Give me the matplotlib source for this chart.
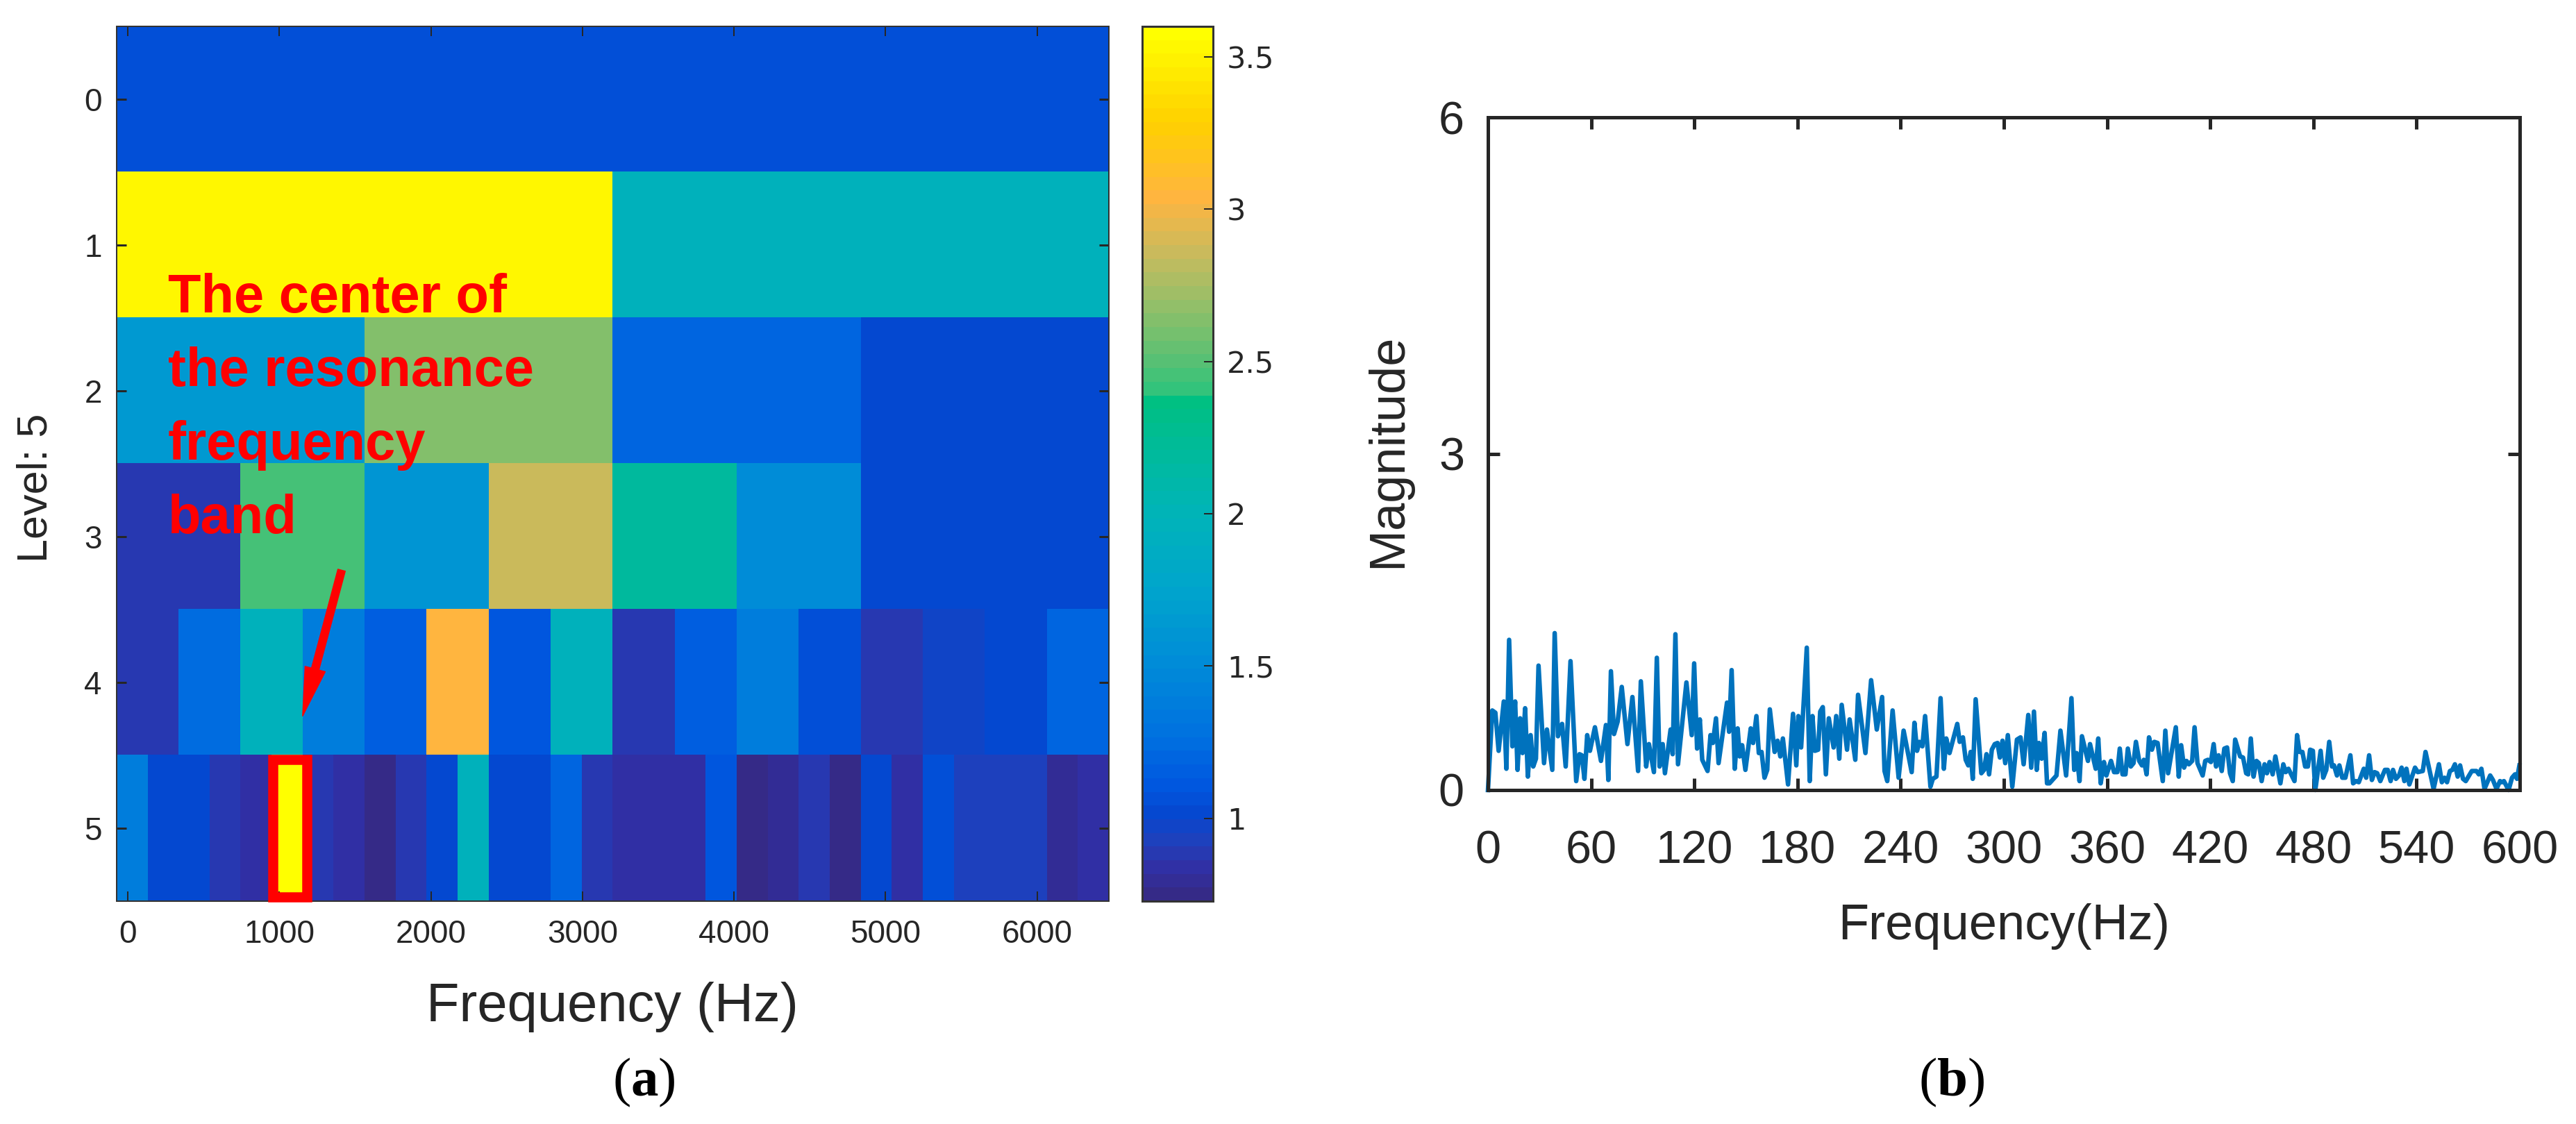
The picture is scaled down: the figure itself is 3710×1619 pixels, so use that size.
import numpy as np
import matplotlib
matplotlib.use('Agg')
import matplotlib.pyplot as plt
from matplotlib.colors import LinearSegmentedColormap
from matplotlib.patches import Rectangle

# --- Kurtogram values, one list per level ---
LEVEL_0 = [1.05]
LEVEL_1 = [3.52, 1.95]
LEVEL_2 = [1.65, 2.65, 1.2, 1.02]
LEVEL_3 = [0.88, 2.45, 1.6, 2.85, 2.2, 1.5, 1.02, 1.02]
LEVEL_4 = [0.88, 1.25, 1.95, 1.4, 1.15, 3.05, 1.1, 1.95,
           0.88, 1.15, 1.4, 1.05, 0.88, 0.98, 1.03, 1.22]
LEVEL_5 = [1.4, 1.0, 1.0, 0.9, 0.82, 3.6, 0.9, 0.82,
           0.76, 0.9, 1.02, 1.95, 1.02, 1.02, 1.22, 0.9,
           0.85, 0.85, 0.85, 1.12, 0.74, 0.78, 0.9, 0.74,
           1.0, 0.85, 1.05, 0.92, 0.92, 0.92, 0.8, 0.85]
LEVELS = [LEVEL_0, LEVEL_1, LEVEL_2, LEVEL_3, LEVEL_4, LEVEL_5]

FREQ_TICKS_A = [0, 1000, 2000, 3000, 4000, 5000, 6000]
CBAR_TICKS = [1, 1.5, 2, 2.5, 3, 3.5]
CBAR_LABELS = ['1', '1.5', '2', '2.5', '3', '3.5']
FREQ_TICKS_B = [0, 60, 120, 180, 240, 300, 360, 420, 480, 540, 600]
MAG_TICKS = [0, 3, 6]

# colour stops
CMAP_VALUES = [0.728, 0.82, 0.9, 1.0, 1.1, 1.25, 1.5, 1.75, 2.0, 2.25, 2.38,
               2.4, 2.5, 2.7, 2.85, 3.05, 3.3, 3.6]
CMAP_COLORS = ['#352a87', '#3030a5', '#2040bb', '#0548d0', '#0058e0', '#0070e0',
               '#008cd8', '#00a5cc', '#00b4b8', '#00bc94', '#00c080',
               '#2dc47c', '#55c074', '#96bf68', '#c4bb5f', '#ffb540', '#ffd000', '#ffff00']

# --- Envelope spectrum ---
SPEC_HZ = [0, 2.5, 4.3, 6.2, 9.2, 10.7, 12.3, 14.2, 15.8, 17.2, 18.7, 20.1, 21.6, 23.2, 24.8, 26.3, 27.9,
           29.4, 32.6, 34.3, 37.4, 38.8, 40.7, 43.1, 45.2, 48.0, 51.3, 53.2, 54.6, 56.1, 57.7, 59.3,
           62.2, 65.7, 68.6, 70.0, 71.5, 73.3, 75.4, 77.8, 81.1, 84.0, 87.3, 88.9, 92.0, 93.6, 96.5,
           98.2, 99.8, 101.6, 102.9, 106.2, 107.4, 109.0, 110.5, 115.4, 118.5, 119.9, 121.6, 123.2,
           124.6, 127.7, 129.4, 130.8, 132.6, 134.1, 139.0, 140.2, 141.7, 143.5, 145.2, 146.4, 147.8,
           149.7, 152.8, 154.2, 156.1, 157.5, 159.1, 160.8, 162.4, 163.9, 166.7, 168.4, 170.0, 171.5,
           174.5, 177.4, 179.3, 180.5, 182.1, 185.4, 187.1, 188.7, 190.1, 192.0, 193.2, 194.7, 196.5,
           198.2, 201.0, 202.5, 204.3, 205.7, 208.8, 210.3, 213.6, 215.2, 219.5, 222.8, 226.1, 229.2,
           230.6, 232.2, 235.3, 238.8, 241.7, 246.4, 248.0, 249.5, 250.9, 252.6, 254.2, 257.3, 258.7,
           260.8, 263.2, 265.1, 266.5, 268.4, 272.9, 274.3, 276.2, 277.8, 279.3, 280.7, 281.9, 283.6,
           286.9, 288.5, 289.9, 291.4, 293.0, 294.7, 296.3, 297.7, 299.2, 300.8, 302.3, 304.9,
           307.6, 309.7, 311.5, 314.2, 315.9, 317.5, 319.1, 320.4, 322.0, 323.7, 325.1, 326.5, 330.6,
           332.9, 336.2, 339.3, 340.9, 342.3, 344.0, 345.4, 348.9, 350.1, 353.4, 354.9, 356.3, 358.2,
           359.6, 362.3, 364.1, 366.0, 367.4, 369.0, 370.7, 372.1, 373.8, 375.4, 376.8, 378.7, 380.3,
           381.4, 383.0, 384.4, 386.1, 387.5, 389.4, 392.4, 393.9, 395.5, 400.0, 401.7, 403.1, 404.8,
           406.2, 407.6, 409.5, 410.9, 412.6, 415.6, 417.1, 418.7, 420.4, 422.0, 423.4, 424.9, 426.7,
           428.2, 429.8, 431.5, 433.1, 434.5, 437.4, 439.1, 440.9, 442.1, 443.6, 445.2, 446.9, 448.3,
           449.9, 451.6, 453.0, 454.5, 456.3, 457.9, 460.8, 462.5, 463.9, 465.5, 469.0, 470.5, 471.9,
           473.6, 475.2, 476.8, 478.1, 479.7, 481.1, 484.2, 485.7, 487.5, 489.2, 490.8, 492.0, 493.7,
           495.1, 496.8, 498.6, 501.5, 503.1, 504.8, 506.4, 509.3, 510.7, 512.4, 514.0, 515.6, 517.1,
           518.9, 521.6, 523.2, 524.9, 526.3, 528.0, 529.8, 531.3, 532.9, 534.1, 535.8, 539.1, 540.7,
           543.6, 545.2, 549.9, 553.0, 554.7, 556.3, 557.7, 559.4, 560.8, 562.3, 563.9, 565.3, 567.0,
           568.6, 572.1, 574.8, 576.2, 577.7, 579.5, 582.8, 584.4, 586.5, 588.5, 589.6, 590.8, 593.5,
           595.5, 597.2, 598.4, 599.8]
SPEC_MAG = [0, .71, .69, .35, .79, .19, 1.34, .39, .79, .18, .64, .33, .73, .12, .49, .21, .28,
            1.11, .24, .54, .18, 1.40, .48, .59, .21, 1.15, .08, .32, .31, .10, .49, .35,
            .56, .26, .58, .09, 1.06, .50, .61, .92, .41, .83, .17, .97, .21, .41, .16,
            1.18, .21, .41, .15, .54, .32, 1.39, .23, .96, .49, 1.13, .37, .63,
            .27, .17, .49, .42, .64, .24, .78, .52, 1.07, .19, .55, .30, .40,
            .18, .55, .42, .66, .33, .34, .11, .18, .72, .34, .44, .30, .46,
            .05, .68, .22, .66, .38, 1.27, .08, .66, .35, .36, .70, .74, .14,
            .64, .38, .66, .28, .76, .36, .63, .27, .85, .33, .98, .54, .83,
            .17, .08, .71, .11, .53, .16, .60, .35, .43, .39, .66, .03, .10,
            .12, .82, .19, .46, .33, .59, .43, .47, .27, .22, .34, .10, .81,
            .15, .18, .32, .14, .36, .41, .42, .29, .44, .24, .49, .03,
            .45, .47, .23, .67, .20, .70, .18, .42, .28, .51, .06, .06, .13,
            .53, .13, .82, .18, .33, .08, .48, .26, .41, .19, .46, .06, .25,
            .13, .26, .16, .16, .37, .14, .14, .37, .21, .24, .43, .26, .22,
            .27, .14, .47, .36, .43, .42, .08, .53, .15, .56, .12, .40, .20,
            .26, .23, .26, .56, .24, .13, .26, .27, .25, .41, .21, .31, .17,
            .37, .38, .15, .08, .45, .30, .29, .15, .14, .46, .12, .26, .24,
            .08, .23, .15, .25, .14, .30, .06, .23, .16, .19, .08, .49, .34,
            .34, .21, .21, .36, .35, 0, .35, .11, .18, .43, .21, .22, .13,
            .22, .11, .11, .31, .06, .08, .07, .19, .11, .31, .09, .16, .15,
            .08, .18, .18, .08, .18, .10, .13, .20, .08, .19, .05, .20, .16,
            .17, .34, .01, .23, .07, .11, .07, .17, .18, .23, .12, .22, .10,
            .08, .17, .17, .14, .19, .01, .13, .09, .01, .08, .07, .08, 0,
            .11, .14, .10, .22]

# --- Layout, all in reference pixels ---
W, H = 3710, 1619
TXT = '#262626'
plt.rcParams['font.family'] = ['Liberation Sans', 'DejaVu Sans']
plt.rcParams['mathtext.fontset'] = 'custom'
plt.rcParams['mathtext.bf'] = 'Liberation Serif:bold'
plt.rcParams['mathtext.rm'] = 'Liberation Serif'


def pt(px):
    return px * 0.72


def box(x0, y0, x1, y1):
    return [x0 / W, 1 - y1 / H, (x1 - x0) / W, (y1 - y0) / H]


fig = plt.figure(figsize=(W / 100, H / 100), dpi=100, facecolor='white')

# --- (a) kurtogram ---
cmap = LinearSegmentedColormap.from_list(
    'kurt',
    [((v - CMAP_VALUES[0]) / (CMAP_VALUES[-1] - CMAP_VALUES[0]), c)
     for v, c in zip(CMAP_VALUES, CMAP_COLORS)],
    N=64)
grid = np.array([np.repeat(row, 32 // len(row)) for row in LEVELS])

ax = fig.add_axes(box(168, 38, 1597, 1298))
im = ax.imshow(grid, cmap=cmap, vmin=CMAP_VALUES[0], vmax=CMAP_VALUES[-1],
               extent=(-73, 6473, 5.5, -0.5), aspect='auto', interpolation='nearest')
ax.set_xticks(FREQ_TICKS_A)
ax.set_yticks(range(6))
ax.tick_params(axis='x', direction='in', length=pt(14), width=pt(2), color='#262626',
               top=True, labelsize=33, labelcolor=TXT, pad=pt(26))
ax.tick_params(axis='y', direction='in', length=pt(14), width=pt(3), color='#262626',
               left=True, right=True, labelsize=33, labelcolor=TXT, pad=pt(21))
for spine in ax.spines.values():
    spine.set_edgecolor('#333333')
    spine.set_linewidth(pt(2))

ax.add_patch(Rectangle((957, 4.53), 223, 0.94, fill=False, edgecolor='#ff0000',
                       linewidth=pt(14.5), clip_on=False, joinstyle='miter', zorder=5))
ax.annotate('', xy=(1154, 4.23), xytext=(1411, 3.23),
            arrowprops=dict(facecolor='#ff0000', edgecolor='#ff0000', width=pt(11),
                            headwidth=pt(30), headlength=pt(70), shrink=0), zorder=6)
ax.text(266, 2.12, 'The center of\nthe resonance\nfrequency\nband', color='#ff0000',
        fontsize=56, fontweight='bold', va='center', ha='left', linespacing=1.58, zorder=6)

cax = fig.add_axes(box(1645, 38, 1747, 1298))
cbar = fig.colorbar(im, cax=cax, ticks=CBAR_TICKS)
cbar.ax.set_yticklabels(CBAR_LABELS, family='DejaVu Sans', fontsize=31, color=TXT)
cbar.ax.tick_params(direction='in', length=pt(13), width=pt(2), color='#262626', pad=pt(20))
cbar.outline.set_edgecolor('#333333')
cbar.outline.set_linewidth(pt(3))

fig.text(882 / W, 1 - 1450 / H, 'Frequency (Hz)', fontsize=56, color=TXT, ha='center', va='center')
fig.text(52 / W, 1 - 703 / H, 'Level: 5', fontsize=44, color=TXT, rotation=90, ha='center', va='center')
fig.text(927 / W, 1 - 1559 / H, r'($\mathbf{a}$)', fontsize=57, color='black',
         family='Liberation Serif', ha='center', va='center')

# --- (b) envelope spectrum ---
ax2 = fig.add_axes(box(2143, 169, 3629, 1138))
ax2.plot(SPEC_HZ, SPEC_MAG, color='#0072BD', linewidth=pt(6.5), solid_joinstyle='round', clip_on=False)
ax2.set_xlim(0, 600)
ax2.set_ylim(0, 6)
ax2.set_xticks(FREQ_TICKS_B)
ax2.set_yticks(MAG_TICKS)
ax2.tick_params(axis='x', direction='in', length=pt(17), width=pt(5), color='#262626',
                top=True, labelsize=48, labelcolor=TXT, pad=pt(58))
ax2.tick_params(axis='y', direction='in', length=pt(17), width=pt(5), color='#262626',
                right=True, labelsize=48, labelcolor=TXT, pad=pt(34))
for spine in ax2.spines.values():
    spine.set_edgecolor('#262626')
    spine.set_linewidth(pt(5))

fig.text(2886 / W, 1 - 1334 / H, 'Frequency(Hz)', fontsize=52, color=TXT, ha='center', va='center')
fig.text(2000 / W, 1 - 649 / H, 'Magnitude', fontsize=52, color=TXT, rotation=90, ha='center', va='center')
fig.text(2811 / W, 1 - 1559 / H, r'($\mathbf{b}$)', fontsize=57, color='black',
         family='Liberation Serif', ha='center', va='center')

fig.savefig('out.png', dpi=100)
